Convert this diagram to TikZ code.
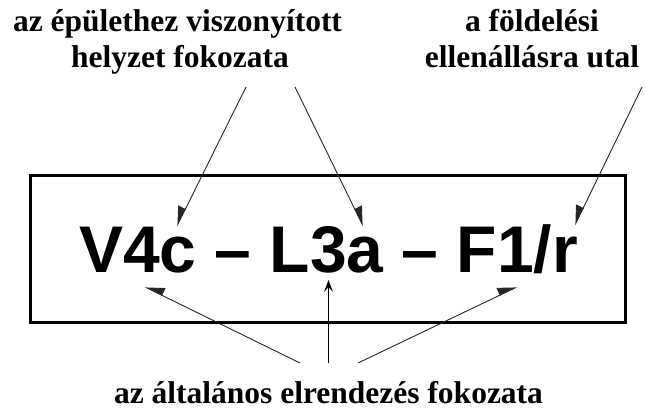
\documentclass[tikz,border=0pt]{standalone}
\usepackage{fontspec}
\setmainfont{Liberation Serif}
\newfontfamily\mainsans{Liberation Sans}
\usetikzlibrary{arrows.meta}
\begin{document}
\begin{tikzpicture}[x=1pt,y=-1pt,
  lbl/.style={font=\fontsize{31.5}{35}\selectfont\bfseries, align=center, inner sep=0pt},
  code/.style={font=\fontsize{66}{70}\selectfont\mainsans\bfseries, inner sep=0pt, anchor=base},
  pointer/.style={line width=0.9pt, draw=black!85},
  hl/.style={pointer, -{Triangle[length=18pt,width=16pt,harpoon]}},
  hr/.style={pointer, -{Triangle[length=18pt,width=16pt,harpoon,swap]}},
  up/.style={line width=1pt, -{Stealth[length=12pt,width=9pt,inset=5pt]}}]
\useasboundingbox (0,0) rectangle (647,412);
% frame
\node[draw, line width=3pt, minimum width=595pt, minimum height=147pt, inner sep=0pt] (box) at (327.5,248.5) {};
% main code
\node[code] (main) at (328.5,272) {V4c – L3a – F1/r};
% labels
\node[lbl, anchor=base] (t1a) at (177.5,32) {az épülethez viszonyított};
\node[lbl, anchor=base] (t1b) at (180,67) {helyzet fokozata};
\node[lbl, anchor=base] (t2a) at (532,32) {a földelési};
\node[lbl, anchor=base] (t2b) at (532,67) {ellenállásra utal};
\node[lbl, anchor=base] (t3) at (328.5,403) {az általános elrendezés fokozata};
% connector ends
\coordinate (s1) at (246,87);
\coordinate (e1) at (177,226);
\coordinate (s2) at (295,87);
\coordinate (e2) at (363,226);
\coordinate (s3) at (642,87);
\coordinate (e3) at (575,225);
\coordinate (b1) at (300,363);
\coordinate (f1) at (145,287);
\coordinate (b2) at (328.5,363);
\coordinate (f2) at (328.5,280);
\coordinate (b3) at (358,363);
\coordinate (f3) at (517,287);
\draw[hr] (s1) -- (e1);
\draw[hl] (s2) -- (e2);
\draw[hr] (s3) -- (e3);
\draw[hr] (b1) -- (f1);
\draw[up] (b2) -- (f2);
\draw[hl] (b3) -- (f3);
\end{tikzpicture}
\end{document}
